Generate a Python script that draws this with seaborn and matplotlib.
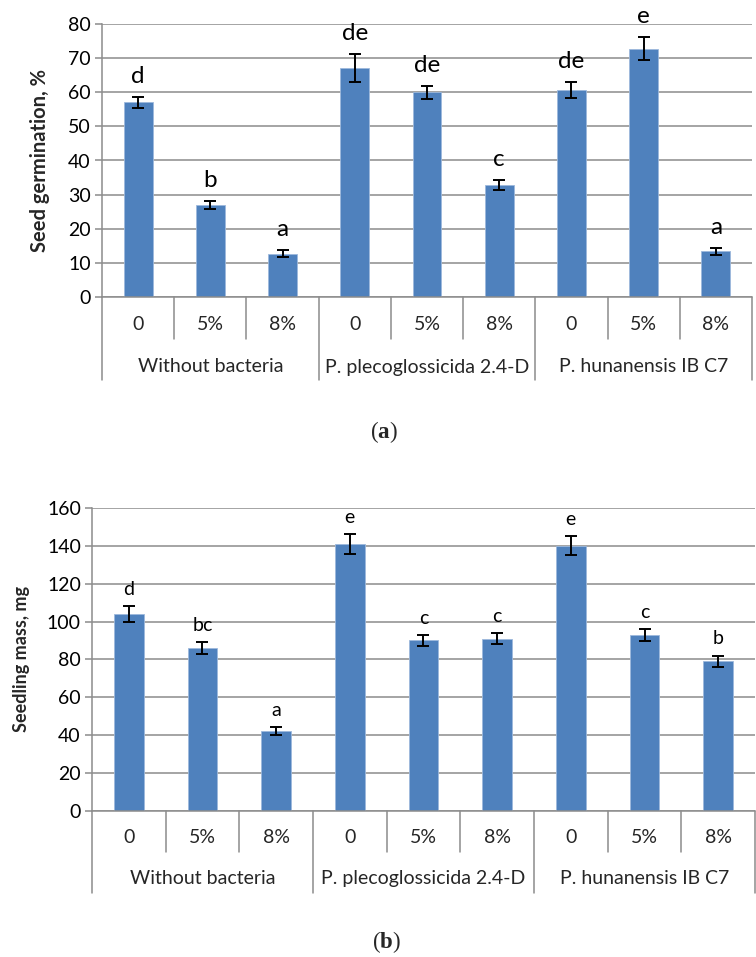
import matplotlib
matplotlib.use("Agg")
import matplotlib.pyplot as plt
import seaborn as sns
import pandas as pd
from matplotlib.transforms import blended_transform_factory

groups = ["Without bacteria", "P. plecoglossicida 2.4-D", "P. hunanensis IB C7"]
doses = ["0", "5%", "8%"]

germ_values = [57.0, 27.0, 12.7, 67.0, 60.0, 32.8, 60.6, 72.8, 13.4]
germ_errors = [1.5, 1.1, 1.1, 4.1, 1.9, 1.5, 2.4, 3.3, 1.0]
germ_letters = ["d", "b", "a", "de", "de", "c", "de", "e", "a"]

mass_values = [104.0, 86.0, 42.0, 141.0, 90.0, 91.0, 140.0, 93.0, 79.0]
mass_errors = [4.0, 3.1, 2.0, 5.1, 3.0, 3.1, 5.0, 3.1, 3.0]
mass_letters = ["d", "bc", "a", "e", "c", "c", "e", "c", "b"]

sns.set_theme(style="white")
plt.rcParams['font.family'] = ['Lato', 'DejaVu Sans']
plt.rcParams['mathtext.fontset'] = 'custom'
plt.rcParams['mathtext.rm'] = 'Liberation Serif'
plt.rcParams['mathtext.bf'] = 'Liberation Serif:bold'

W, H = 756, 957
fig = plt.figure(figsize=(W / 100, H / 100), dpi=100)

BLUE = "#4F81BD"
GRID = "#8C8C8C"
TICK_FS = 14


def make_df(values, errors, letters):
    rows = []
    for gi, g in enumerate(groups):
        for di, d in enumerate(doses):
            k = gi * 3 + di
            rows.append({"key": f"{g}|{d}", "group": g, "dose": d,
                         "value": values[k], "err": errors[k], "letter": letters[k]})
    return pd.DataFrame(rows)


def panel(rect_px, df, ymax, ystep, ylabel, ylabel_size, ylabel_x, letter_size,
          letter_off, minor_px, group_px, minor_lab_px, group_lab_px):
    left, top, right, bottom = rect_px
    ax = fig.add_axes([left / W, 1 - bottom / H, (right - left) / W, (bottom - top) / H])
    hpx = bottom - top
    sns.barplot(data=df, x="key", y="value", order=list(df["key"]), color=BLUE,
                width=0.4, errorbar=None, ax=ax, edgecolor="#9DB9DC", linewidth=0.6,
                saturation=1)
    ax.errorbar(range(len(df)), df["value"], yerr=df["err"], fmt="none",
                ecolor="black", elinewidth=1.4, capsize=4.6, capthick=1.4, zorder=5)
    for i, r in df.iterrows():
        ax.annotate(r["letter"], (i, r["value"] + r["err"]), xytext=(0, letter_off),
                    textcoords="offset points", ha="center", va="baseline",
                    fontsize=letter_size, color="black", zorder=6)
    ax.set_xlim(-0.5, len(df) - 0.5)
    ax.set_ylim(0, ymax)
    ax.set_yticks(range(0, ymax + 1, ystep))
    ax.yaxis.grid(True, color=GRID, linewidth=1.1)
    ax.set_axisbelow(True)
    for s in ["top", "right", "bottom"]:
        ax.spines[s].set_visible(False)
    ax.spines["left"].set_color(GRID)
    ax.spines["left"].set_linewidth(1.1)
    ax.tick_params(axis="y", which="both", left=True, length=5, width=1.1, color=GRID,
                   labelsize=TICK_FS, pad=3, labelcolor="black")
    ax.set_xticks([])
    ax.set_xlabel("")
    ax.set_ylabel("")
    fig.text(ylabel_x / W, 1 - (top + bottom) / 2 / H, ylabel, rotation=90,
             ha="center", va="center", fontsize=ylabel_size, fontweight="bold")
    tr = blended_transform_factory(ax.transData, ax.transAxes)
    ax.plot([-0.5, len(df) - 0.5], [0, 0], transform=tr, color=GRID, lw=1.1,
            clip_on=False, zorder=4)
    n = len(df)
    for b in range(n + 1):
        x = b - 0.5
        y1 = -group_px / hpx if b % 3 == 0 else -minor_px / hpx
        ax.plot([x, x], [0, y1], transform=tr, color=GRID, lw=1.1, clip_on=False)
    for i, r in df.iterrows():
        ax.text(i, -minor_lab_px / hpx, r["dose"], transform=tr, ha="center",
                va="center", fontsize=TICK_FS)
    for gi, g in enumerate(groups):
        ax.text(gi * 3 + 1, -group_lab_px / hpx, g, transform=tr, ha="center",
                va="center", fontsize=TICK_FS)
    return ax


df_a = make_df(germ_values, germ_errors, germ_letters)
df_b = make_df(mass_values, mass_errors, mass_letters)

panel((102, 24, 752, 297), df_a, 80, 10, "Seed germination, %", 14.5, 40, 17.5, 10,
      42, 83, 28, 70)
panel((92, 508, 755, 810.7), df_b, 160, 20, "Seedling mass, mg", 13, 22, 14, 8,
      41, 82, 27, 68)

fig.text(384 / W, 1 - 432 / H, r"($\mathbf{a}$)", ha="center", va="center",
         fontsize=16.5, family="Liberation Serif")
fig.text(386 / W, 1 - 942 / H, r"($\mathbf{b}$)", ha="center", va="center",
         fontsize=16.5, family="Liberation Serif")

fig.savefig("out.png", dpi=100)
